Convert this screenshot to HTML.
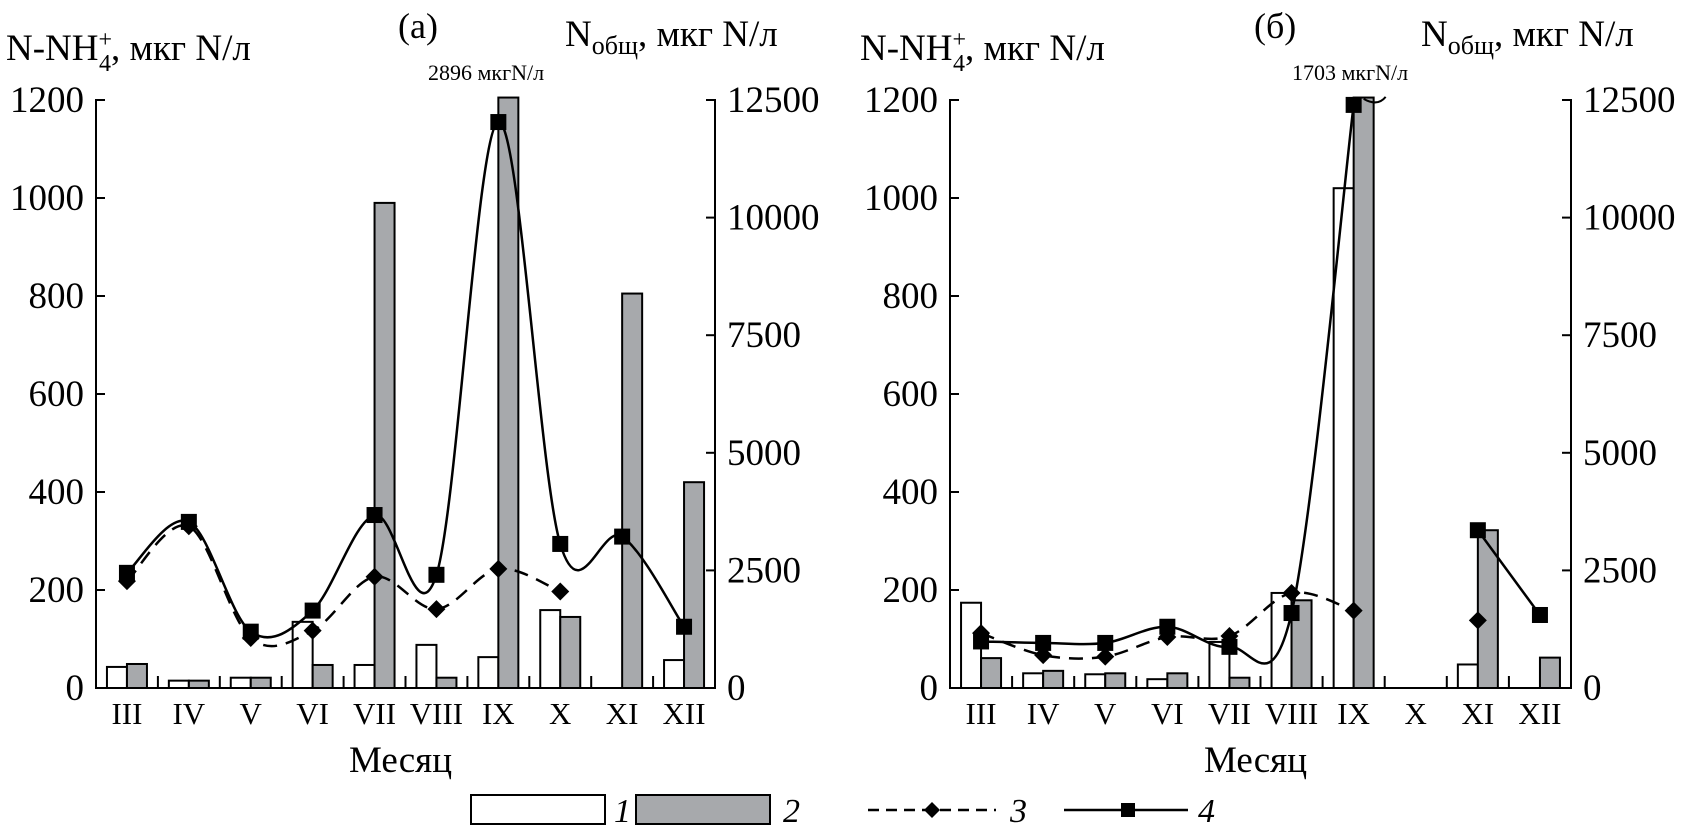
<!DOCTYPE html>
<html><head><meta charset="utf-8">
<style>
body{margin:0;background:#fff;}
svg{display:block;font-family:"Liberation Serif",serif;}
</style></head>
<body>
<svg id="chart" width="1683" height="836" xmlns="http://www.w3.org/2000/svg">
<g id="legend">
  <rect x="471" y="795" width="134" height="29" fill="#fff" stroke="#000" stroke-width="2"/>
  <text x="614" y="822" font-size="34" font-style="italic">1</text>
  <rect x="636" y="795" width="134" height="29" fill="#a7a9ac" stroke="#000" stroke-width="2"/>
  <text x="783" y="822" font-size="34" font-style="italic">2</text>
  <line x1="868" y1="810" x2="996" y2="810" stroke="#000" stroke-width="2.5" stroke-dasharray="11,7"/>
  <path d="M932 802 L940 810 L932 818 L924 810Z" fill="#000"/>
  <text x="1010" y="822" font-size="34" font-style="italic">3</text>
  <line x1="1064" y1="810" x2="1188" y2="810" stroke="#000" stroke-width="2.5"/>
  <rect x="1121" y="803" width="14" height="14" fill="#000"/>
  <text x="1198" y="822" font-size="34" font-style="italic">4</text>
</g>
</svg>
<script>
const months = ["III","IV","V","VI","VII","VIII","IX","X","XI","XII"];
const leftTicks = [0,200,400,600,800,1000,1200];
const rightTicks = ["0","2500","5000","7500","10000","12500"];
// panel (a)
const a_white = [43,15,21,135,47,88,63,159,0,57];
const a_gray = [49,15,21,47,990,21,1205,145,805,420];
const a_line3 = [218,330,102,117,227,161,243,197,null,null];
const a_line4 = [235,339,115,158,353,231,1155,294,309,125];
// panel (b)
const b_white = [174,30,28,18,94,194,1020,0,48,0];
const b_gray = [61,35,30,30,21,179,1205,0,322,62];
const b_line3 = [112,67,64,104,106,194,158,null,138,null];
const b_line4 = [95,92,92,125,84,153,1190,null,322,149];

const NS="http://www.w3.org/2000/svg";
const svg=document.getElementById('chart');
function el(tag,attrs,parent){const e=document.createElementNS(NS,tag);for(const k in attrs)e.setAttribute(k,attrs[k]);(parent||svg).appendChild(e);return e;}

function catmull(pts){
  let d="M"+pts[0][0]+" "+pts[0][1];
  for(let i=0;i<pts.length-1;i++){
    const p0=pts[i-1]||pts[i],p1=pts[i],p2=pts[i+1],p3=pts[i+2]||p2;
    const c1=[p1[0]+(p2[0]-p0[0])/6,p1[1]+(p2[1]-p0[1])/6];
    const c2=[p2[0]-(p3[0]-p1[0])/6,p2[1]-(p3[1]-p1[1])/6];
    d+=` C${c1[0]} ${c1[1]} ${c2[0]} ${c2[1]} ${p2[0]} ${p2[1]}`;
  }
  return d;
}

function panel(cfg){
  const g=el('g',{});
  
  
  const x0=cfg.x0,x1=cfg.x1,yB=688,yT=100;
  const cw=(x1-x0)/months.length;
  const y=v=>yB-(v/1200)*(yB-yT);
  const xc=i=>x0+cw*(i+0.5);
  months.forEach((m,i)=>{
    if(cfg.white[i]>0){
      const r=el('rect',{x:xc(i)-20,y:y(cfg.white[i]),width:20,height:yB-y(cfg.white[i]),fill:'#fff',stroke:'#000','stroke-width':2},g);
      
      
    }
    if(cfg.gray[i]>0){
      const r=el('rect',{x:xc(i),y:y(cfg.gray[i]),width:20,height:yB-y(cfg.gray[i]),fill:'#a7a9ac',stroke:'#000','stroke-width':2},g);
      
      
    }
  });
  function segs(arr){const out=[];let cur=[];arr.forEach((v,i)=>{if(v==null){if(cur.length)out.push(cur);cur=[];}else cur.push([xc(i),y(v)]);});if(cur.length)out.push(cur);return out;}
  segs(cfg.line3).forEach(s=>{if(s.length<2)return;
    const p=el('path',{d:catmull(s),fill:'none',stroke:'#000','stroke-width':2.5,'stroke-dasharray':'14,9'},g);
    
    });
  segs(cfg.line4).forEach(s=>{if(s.length<2)return;
    const p=el('path',{d:s.length>2?catmull(s):'M'+s.map(q=>q.join(' ')).join(' L'),fill:'none',stroke:'#000','stroke-width':2.5},g);
    
    });
  cfg.line3.forEach((v,i)=>{if(v==null)return;const X=xc(i),Y=y(v);
    const p=el('path',{d:`M${X} ${Y-9} L${X+9} ${Y} L${X} ${Y+9} L${X-9} ${Y}Z`,fill:'#000'},g);
    
    });
  cfg.line4.forEach((v,i)=>{if(v==null)return;
    const p=el('rect',{x:xc(i)-8,y:y(v)-8,width:16,height:16,fill:'#000'},g);
    
    });
  const ax=el('path',{d:`M${x0+8} ${yT} H${x0} V${yB} H${x1} V${yT} H${x1-8}`,fill:'none',stroke:'#000','stroke-width':2},g);
  
  
  leftTicks.forEach(t=>{
    el('line',{x1:x0,x2:x0+9,y1:y(t),y2:y(t),stroke:'#000','stroke-width':2},g);
    const tx=el('text',{x:x0-12,y:y(t)+12,'font-size':37,'text-anchor':'end'},g);tx.textContent=t;
    
    
  });
  rightTicks.forEach((t,i)=>{
    const Y=yB-i*(yB-yT)/5;
    el('line',{x1:x1,x2:x1-9,y1:Y,y2:Y,stroke:'#000','stroke-width':2},g);
    const tx=el('text',{x:x1+12,y:Y+12,'font-size':37},g);tx.textContent=t;
    
    
  });
  months.forEach((m,i)=>{
    if(i>0) el('line',{x1:x0+cw*i,x2:x0+cw*i,y1:yB,y2:yB-12,stroke:'#000','stroke-width':2},g);
    const tx=el('text',{x:xc(i),y:724,'font-size':31,'text-anchor':'middle'},g);tx.textContent=m;
    
    
  });
  const xt=el('text',{x:(x0+x1)/2-5,y:772,'font-size':37,'text-anchor':'middle'},g);xt.textContent='Месяц';
  
  
  const lt=el('text',{x:x0-90,y:60,'font-size':37},g);
  lt.innerHTML='N-NH<tspan font-size="24" dy="-13">+</tspan><tspan font-size="24" dx="-13" dy="24">4</tspan><tspan dy="-11">, мкг N/л</tspan>';
  
  
  const rt=el('text',{x:x1-150,y:46,'font-size':37},g);
  rt.innerHTML='N<tspan font-size="26" dy="8">общ</tspan><tspan dy="-8">, мкг N/л</tspan>';
  
  
  const pl=el('text',{x:cfg.labelX,y:38,'font-size':36},g);pl.textContent=cfg.label;
  
  
  const an=el('text',{x:cfg.annX,y:80,'font-size':22},g);an.textContent=cfg.ann;
  
  
  if(cfg.curl){const X=xc(6)+10,Y=y(cfg.line4[6]);
    const c=el('path',{d:`M${X} ${Y-6} Q${X+14} ${Y+2} ${X+22} ${Y-8}`,fill:'none',stroke:'#000','stroke-width':2},g);
    
    }
}
panel({id:'a',x0:96,x1:715,white:a_white,gray:a_gray,line3:a_line3,line4:a_line4,label:'(a)',labelX:398,ann:'2896 мкгN/л',annX:428});
panel({id:'b',x0:950,x1:1571,white:b_white,gray:b_gray,line3:b_line3,line4:b_line4,label:'(б)',labelX:1254,ann:'1703 мкгN/л',annX:1292,curl:true});
</script>
</body></html>
